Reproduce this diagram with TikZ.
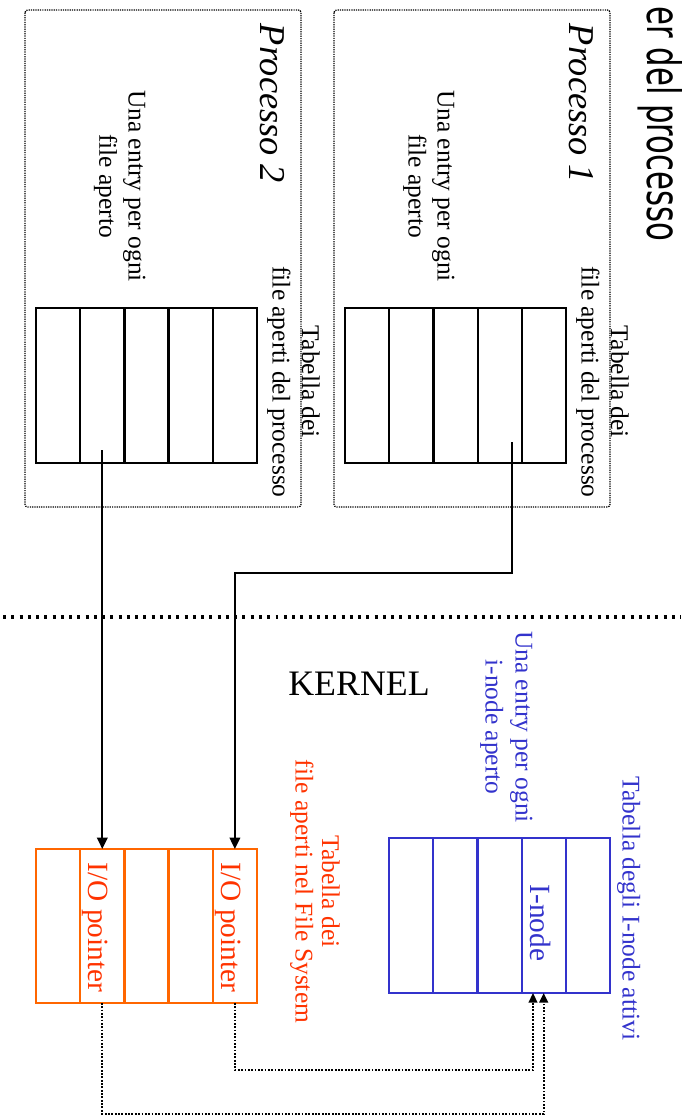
\documentclass[tikz,border=0pt]{standalone}
\usepackage{fontspec}
\setmainfont{Liberation Serif}
\newfontfamily\titlefont{DejaVu Sans}
\usetikzlibrary{arrows.meta,calc}
\definecolor{kblue}{HTML}{3333CC}
\definecolor{korange}{HTML}{FF6600}
\definecolor{kred}{HTML}{FF3300}
\begin{document}
\begin{tikzpicture}[x=0.02cm,y=-0.02cm,
  cell/.style={draw,line width=1.25pt,minimum width=0.884cm,minimum height=3.1cm,inner sep=0pt,outer sep=0pt},
  rlbl/.style={rotate=-90,anchor=base,inner sep=0pt,font=\fontsize{14.5pt}{17pt}\selectfont},
  cellbl/.style={rotate=-90,anchor=base,inner sep=0pt,font=\fontsize{16.7pt}{19pt}\selectfont},
  proclbl/.style={rotate=-90,anchor=base,inner sep=0pt,font=\fontsize{20.7pt}{24pt}\selectfont\itshape},
  procbox/.style={line width=0.7pt,dash pattern=on 0.7pt off 0.6pt,rounded corners=1.5pt},
  sepline/.style={line width=1.8pt,dash pattern=on 1.7pt off 3pt},
  arr/.style={line width=1.2pt,-{Triangle[length=6.5pt,width=6pt]}},
  darr/.style={line width=1pt,dash pattern=on 1pt off 0.9pt,-{Triangle[length=5.5pt,width=5pt]}}]
\useasboundingbox (0,0) rectangle (681,1117);

% title fragment
\node[rotate=-90,anchor=base west,inner sep=0pt] (title) at (647,6)
  {\scalebox{1.0}[1.5]{\titlefont\fontsize{17.5pt}{20pt}\selectfont er del processo}};

% process boxes
\draw[procbox] (334,10) rectangle (610,507);
\draw[procbox] (25,10) rectangle (301,507);

% process tables
\foreach \i in {0,...,4}{
  \node[cell] (pa\i) at ({367.1+44.2*\i},385.5) {};
  \node[cell] (pb\i) at ({58.1+44.2*\i},385.5) {};
  \node[cell,draw=kblue] (in\i) at ({411.1+44.2*\i},915.5) {};
  \node[cell,draw=korange,minimum height=3.08cm] (fs\i) at ({58.1+44.2*\i},926) {};
}

% process labels
\node[proclbl] (p1name) at (569,103.5) {Processo 1};
\node[proclbl] (p2name) at (260,103.5) {Processo 2};
\node[rlbl] (p1e1) at (437.5,186) {Una entry per ogni};
\node[rlbl] (p1e2) at (408.5,186) {file aperto};
\node[rlbl] (p2e1) at (128.5,186) {Una entry per ogni};
\node[rlbl] (p2e2) at (99.5,186) {file aperto};
\node[rlbl] (p1t1) at (611,382) {Tabella dei};
\node[rlbl] (p1t2) at (581.5,382) {file aperti del processo};
\node[rlbl] (p2t1) at (302,382) {Tabella dei};
\node[rlbl] (p2t2) at (272.5,382) {file aperti del processo};

% separator
\draw[sepline] (3,617) -- (681,617);
\node[anchor=base,inner sep=0pt,font=\fontsize{20.4pt}{24pt}\selectfont] (kernel) at (359,695) {KERNEL};

% i-node table labels
\node[rlbl,text=kblue] (ie1) at (515.5,727) {Una entry per ogni};
\node[rlbl,text=kblue] (ie2) at (485.5,727) {i-node aperto};
\node[rlbl,text=kblue] (it) at (622.5,908.5) {Tabella degli I-node attivi};
\node[cellbl,text=kblue] (inode) at (530,923) {I-node};

% file system table labels
\node[rlbl,text=kred] (ft1) at (322,891.5) {Tabella dei};
\node[rlbl,text=kred] (ft2) at (295.5,891.5) {file aperti nel File System};
\node[cellbl,text=kred] (io2) at (221.4,927.5) {I/O pointer};
\node[cellbl,text=kred] (io1) at (88.5,927.5) {I/O pointer};

% connectors
\coordinate (s1) at (512,442);
\coordinate (k1) at (234.9,573);
\coordinate (s2) at (102.3,450);
\draw[arr] (s1) |- (k1) -- (fs4.north);
\draw[arr] (s2) -- (fs1.north);

\coordinate (d1) at (533,1070);
\coordinate (d2) at (543.7,1114);
\draw[darr] (fs4.south) |- (d1) -- (d1 |- in3.south);
\draw[darr] (fs1.south) |- (d2) -- (in3.south);
\end{tikzpicture}
\end{document}
